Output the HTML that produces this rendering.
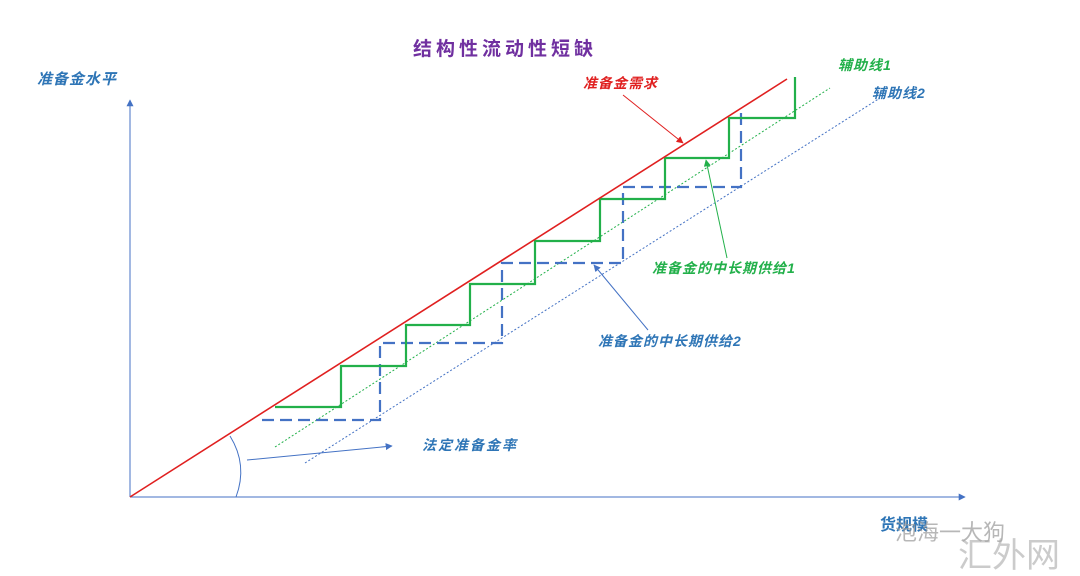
<!DOCTYPE html>
<html><head><meta charset="utf-8"><style>
html,body{margin:0;padding:0;background:#fff;}
svg{display:block;}
text{font-family:"Liberation Sans","Noto Sans CJK SC",sans-serif;font-style:italic;font-weight:bold;}
text.n{font-style:normal;}
text.w{font-style:normal;font-weight:normal;}
</style></head><body>
<svg width="1080" height="576" viewBox="0 0 1080 576" xmlns="http://www.w3.org/2000/svg">
<defs>
<marker id="ab" viewBox="0 0 10 10" refX="9" refY="5" markerWidth="7" markerHeight="7" orient="auto"><path d="M0,0L10,5L0,10z" fill="#4472c4"/></marker>
<marker id="ar" viewBox="0 0 10 10" refX="9" refY="5" markerWidth="7" markerHeight="7" orient="auto"><path d="M0,0L10,5L0,10z" fill="#e02020"/></marker>
<marker id="ag" viewBox="0 0 10 10" refX="9" refY="5" markerWidth="7" markerHeight="7" orient="auto"><path d="M0,0L10,5L0,10z" fill="#22b04a"/></marker>
</defs>
<line x1="130" y1="497" x2="130" y2="100" stroke="#4472c4" stroke-width="1" marker-end="url(#ab)"/>
<line x1="130" y1="497" x2="965" y2="497" stroke="#4472c4" stroke-width="1" marker-end="url(#ab)"/>
<line x1="275" y1="447" x2="830" y2="88" stroke="#22b04a" stroke-width="1" stroke-dasharray="2,2"/>
<line x1="305" y1="463" x2="880" y2="98" stroke="#4472c4" stroke-width="1" stroke-dasharray="2,2"/>
<polyline points="262,420 380,420 380,343 502,343 502,263 623,263 623,187 741,187 741,113" fill="none" stroke="#4472c4" stroke-width="2.2" stroke-dasharray="12,6"/>
<polyline points="275,407 341,407 341,366 406,366 406,325 470,325 470,284 535,284 535,241 600,241 600,199 665,199 665,158 729,158 729,118 795,118 795,77" fill="none" stroke="#22b04a" stroke-width="2.2"/>
<line x1="130" y1="497" x2="787" y2="79" stroke="#e02020" stroke-width="1.6"/>
<path d="M230,436 Q248,465 236,497" fill="none" stroke="#4472c4" stroke-width="1"/>
<line x1="623" y1="95" x2="683" y2="143" stroke="#e02020" stroke-width="1" marker-end="url(#ar)"/>
<line x1="727" y1="258" x2="706" y2="160" stroke="#22b04a" stroke-width="1" marker-end="url(#ag)"/>
<line x1="648" y1="330" x2="594" y2="265" stroke="#4472c4" stroke-width="1" marker-end="url(#ab)"/>
<line x1="247" y1="460" x2="392" y2="446" stroke="#4472c4" stroke-width="1" marker-end="url(#ab)"/>
<text class="n" x="505" y="55" font-size="19" fill="#7030a0" text-anchor="middle" letter-spacing="4">结构性流动性短缺</text>
<text x="37" y="84" font-size="15" fill="#2e75b6" letter-spacing="1">准备金水平</text>
<text x="583" y="88" font-size="14" fill="#e02020" letter-spacing="1">准备金需求</text>
<text x="838" y="70" font-size="14" fill="#22b04a" letter-spacing="1">辅助线1</text>
<text x="872" y="98" font-size="14" fill="#2e75b6" letter-spacing="1">辅助线2</text>
<text x="652" y="273" font-size="14" fill="#22b04a" letter-spacing="1">准备金的中长期供给1</text>
<text x="598" y="346" font-size="14" fill="#2e75b6" letter-spacing="1">准备金的中长期供给2</text>
<text x="422" y="450" font-size="14" fill="#2e75b6" letter-spacing="2">法定准备金率</text>
<text class="n" x="880" y="530" font-size="16" fill="#2e75b6">货规模</text>
<text class="w" x="895" y="540" font-size="22" fill="#999" opacity="0.7">泡海一大狗</text>
<text class="w" x="958" y="567" font-size="34" fill="#aaa" opacity="0.6">汇外网</text>
</svg>
</body></html>
